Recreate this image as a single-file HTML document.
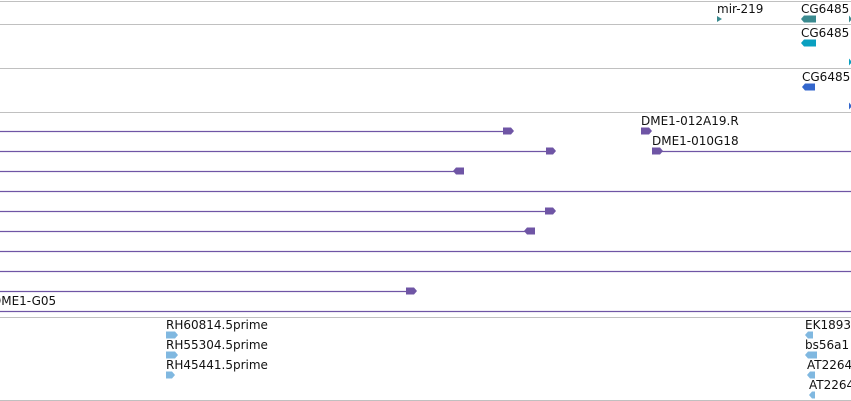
<!DOCTYPE html>
<html><head><meta charset="utf-8"><style>
html,body{margin:0;padding:0;background:#fff;width:851px;height:401px;overflow:hidden}
svg text{font-family:"DejaVu Sans","Liberation Sans",sans-serif;font-size:12px;fill:#111}
</style></head><body>
<svg id="g" width="851" height="401"></svg>
<script>
const separators=[1,24,68,112,317,400];
// [label, x, rowY, dir, width, color, lineFrom, lineTo]
const features=[
 ["mir-219",717,19,1,5,"#3a8a8f",null,null],
 ["CG6485",801,19,-1,15,"#3a8a8f",null,null],
 ["",849,19,1,3,"#3a8a8f",null,null],
 ["CG6485",801,43,-1,15,"#0aa0c0",null,null],
 ["",849,62,1,3,"#0aa0c0",null,null],
 ["CG6485",802,87,-1,13,"#3366cc",null,null],
 ["",849,106,1,3,"#3366cc",null,null],
 ["",503,131,1,11,"#6f55a5",0,505],
 ["DME1-012A19.R",641,131,1,11,"#6f55a5",null,null],
 ["",546,151,1,10,"#6f55a5",0,548],
 ["DME1-010G18",652,151,1,11,"#6f55a5",660,851],
 ["",453,171,-1,11,"#6f55a5",0,456],
 ["",0,191,1,0,"#6f55a5",0,851],
 ["",545,211,1,11,"#6f55a5",0,547],
 ["",524,231,-1,11,"#6f55a5",0,527],
 ["",0,251,1,0,"#6f55a5",0,851],
 ["",0,271,1,0,"#6f55a5",0,851],
 ["",406,291,1,11,"#6f55a5",0,408],
 ["",0,311,1,0,"#6f55a5",0,851],
 ["RH60814.5prime",166,335,1,12,"#80b8e0",null,null],
 ["RH55304.5prime",166,355,1,12,"#80b8e0",null,null],
 ["RH45441.5prime",166,375,1,9,"#80b8e0",null,null],
 ["EK1893",805,335,-1,8,"#80b8e0",null,null],
 ["bs56a1",805,355,-1,12,"#80b8e0",null,null],
 ["AT2264",807,375,-1,8,"#80b8e0",null,null],
 ["AT2264",809,395,-1,6,"#80b8e0",null,null]
];
const ns="http://www.w3.org/2000/svg",svg=document.getElementById('g');
function mk(t,a){const e=document.createElementNS(ns,t);for(const k in a)e.setAttribute(k,a[k]);svg.appendChild(e);return e;}
separators.forEach(y=>{const l=mk('line',{x1:0,x2:851,y1:y+0.5,y2:y+0.5,stroke:'#c0c0c0','stroke-width':1});

});
// G05 label
const g=mk('text',{x:-8,y:305});g.textContent='DME1-G05';


features.forEach(f=>{const[lab,x,y,d,w,c,a,b]=f;
 if(a!==null){const l=mk('line',{x1:a,x2:b,y1:y+0.5,y2:y+0.5,stroke:c,'stroke-width':1.3});
  
  }
 if(w>0){const h=3.5;let p;
  if(d>0)p=`${x},${y-h} ${x+w-3},${y-h} ${x+w},${y} ${x+w-3},${y+h} ${x},${y+h}`;
  else p=`${x+w},${y-h} ${x+3},${y-h} ${x},${y} ${x+3},${y+h} ${x+w},${y+h}`;
  if(w<=5&&lab==='mir-219')p=`${x},${y-3} ${x+w},${y} ${x},${y+3}`;
  const s=mk('polygon',{points:p,fill:c});
  
  }
 if(lab){const t=mk('text',{x:x,y:y-6});t.textContent=lab;
  
  }
});
</script>
</body></html>
